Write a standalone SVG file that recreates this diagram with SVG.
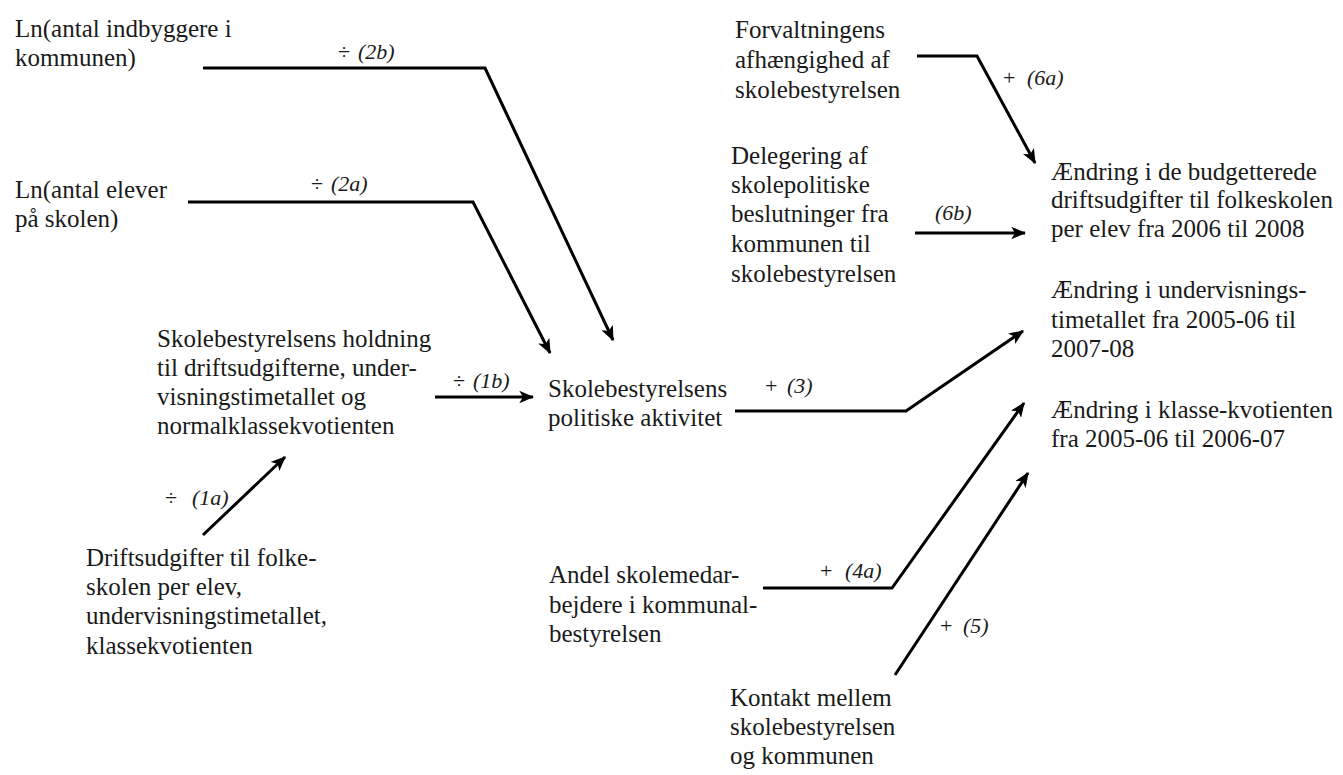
<svg xmlns="http://www.w3.org/2000/svg" width="1343" height="775" viewBox="0 0 1343 775">
<style>
.t{font-family:"Liberation Serif","Times New Roman",serif;font-size:25px;fill:#1a1a1a}
.l{font-family:"Liberation Serif","Times New Roman",serif;font-size:22px;fill:#1a1a1a}
.i{font-style:italic}
.c{fill:none;stroke:#000;stroke-width:3;stroke-linejoin:miter}
</style>
<defs>
<marker id="ah" viewBox="0 0 12 10" refX="11" refY="5" markerWidth="5" markerHeight="4.2" orient="auto" markerUnits="strokeWidth">
<path d="M0,0 L12,5 L0,10 L3,5 z" fill="#000"/>
</marker>
</defs>
<rect width="1343" height="775" fill="#fff"/>
<g id="connectors">
<path class="c" d="M203,68 H485 L613,340" marker-end="url(#ah)"/>
<path class="c" d="M188,202 H473 L550,353" marker-end="url(#ah)"/>
<path class="c" d="M435,397 H533" marker-end="url(#ah)"/>
<path class="c" d="M203,535 L285,457" marker-end="url(#ah)"/>
<path class="c" d="M735,411 H906 L1023,331" marker-end="url(#ah)"/>
<path class="c" d="M763,588 H892 L1024,403" marker-end="url(#ah)"/>
<path class="c" d="M895,675 L1028,473" marker-end="url(#ah)"/>
<path class="c" d="M917,56 H977 L1035,163" marker-end="url(#ah)"/>
<path class="c" d="M915,233 H1025" marker-end="url(#ah)"/>
<text class="l" x="338" y="59">÷<tspan class="i" x="358">(2b)</tspan></text>
<text class="l" x="311" y="191">÷<tspan class="i" x="331">(2a)</tspan></text>
<text class="l" x="453" y="388">÷<tspan class="i" x="473">(1b)</tspan></text>
<text class="l" x="765" y="393">+<tspan class="i" x="787">(3)</tspan></text>
<text class="l" x="165" y="505">÷<tspan class="i" x="192">(1a)</tspan></text>
<text class="l" x="820" y="578">+<tspan class="i" x="845">(4a)</tspan></text>
<text class="l" x="940" y="633">+<tspan class="i" x="963">(5)</tspan></text>
<text class="l" x="1003" y="85">+<tspan class="i" x="1027">(6a)</tspan></text>
<text class="l i" x="935" y="220">(6b)</text>
</g>
<g id="n-indbyggere"><text class="t" x="15" y="37">Ln(antal indbyggere i</text><text class="t" x="15" y="66">kommunen)</text></g>
<g id="n-elever"><text class="t" x="15" y="198">Ln(antal elever</text><text class="t" x="15" y="227">på skolen)</text></g>
<g id="n-holdning"><text class="t" x="157" y="347">Skolebestyrelsens holdning</text><text class="t" x="157" y="376">til driftsudgifterne, under-</text><text class="t" x="157" y="405">visningstimetallet og</text><text class="t" x="157" y="434">normalklassekvotienten</text></g>
<g id="n-drift"><text class="t" x="86" y="566">Driftsudgifter til folke-</text><text class="t" x="86" y="595">skolen per elev,</text><text class="t" x="86" y="624">undervisningstimetallet,</text><text class="t" x="86" y="654">klassekvotienten</text></g>
<g id="n-aktivitet"><text class="t" x="548" y="397">Skolebestyrelsens</text><text class="t" x="548" y="426">politiske aktivitet</text></g>
<g id="n-andel"><text class="t" x="549" y="583">Andel skolemedar-</text><text class="t" x="549" y="613">bejdere i kommunal-</text><text class="t" x="549" y="642">bestyrelsen</text></g>
<g id="n-kontakt"><text class="t" x="730" y="706">Kontakt mellem</text><text class="t" x="730" y="735">skolebestyrelsen</text><text class="t" x="730" y="764">og kommunen</text></g>
<g id="n-forvaltning"><text class="t" x="735" y="38">Forvaltningens</text><text class="t" x="735" y="68">afhængighed af</text><text class="t" x="735" y="98">skolebestyrelsen</text></g>
<g id="n-delegering"><text class="t" x="731" y="164">Delegering af</text><text class="t" x="731" y="193">skolepolitiske</text><text class="t" x="731" y="222">beslutninger fra</text><text class="t" x="731" y="252">kommunen til</text><text class="t" x="731" y="282">skolebestyrelsen</text></g>
<g id="n-budget"><text class="t" x="1051" y="180">Ændring i de budgetterede</text><text class="t" x="1051" y="208">driftsudgifter til folkeskolen</text><text class="t" x="1051" y="237">per elev fra 2006 til 2008</text></g>
<g id="n-timetal"><text class="t" x="1051" y="298">Ændring i undervisnings-</text><text class="t" x="1051" y="328">timetallet fra 2005-06 til</text><text class="t" x="1051" y="357">2007-08</text></g>
<g id="n-kvotient"><text class="t" x="1051" y="418">Ændring i klasse-kvotienten</text><text class="t" x="1051" y="447">fra 2005-06 til 2006-07</text></g>
</svg>
